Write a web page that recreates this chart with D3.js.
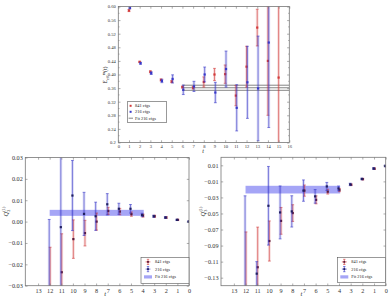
<!DOCTYPE html>
<html>
<head>
<meta charset="utf-8">
<script src="https://cdn.jsdelivr.net/npm/d3@7"></script>
<style>
  body { margin: 0; background: #fff; }
  svg text { font-family: "Liberation Serif", "DejaVu Serif", serif; fill: #222; }
</style>
</head>
<body>
<div id="chart"></div>
<script>
// top panel: effective energy
const topT = d3.range(1, 16);
const topRed = [0.588, 0.437, 0.408, 0.384, 0.379, 0.363, 0.361, 0.378, 0.400, 0.401, 0.338, 0.423, 0.538, 0.440, 0.391];
const topRedErr = [0.003, 0.002, 0.003, 0.003, 0.003, 0.003, 0.004, 0.015, 0.018, 0.027, 0.030, 0.060, 0.054, 0.160, 0.300];
const topBlueT = d3.range(1, 15);
const topBlue = [0.596, 0.433, 0.404, 0.381, 0.387, 0.355, 0.365, 0.400, 0.347, 0.416, 0.302, 0.377, 0.359, 0.494];
const topBlueErr = [0.003, 0.003, 0.004, 0.005, 0.012, 0.014, 0.015, 0.022, 0.030, 0.053, 0.068, 0.106, 0.154, 0.250];
const topFit = { from: 6, to: 16, value: 0.361, err: 0.0075 };
const topYTicks = d3.range(0.2, 0.601, 0.04);

// bottom panels: t = 12 .. 0
const botT = d3.range(12, -1, -1);
const leftRed = [-0.045, -0.0237, -0.0082, -0.0054, 0.0000, 0.0050, 0.0047, 0.0035, 0.0028, 0.0025, 0.0019, 0.0008, 0.0000];
const leftRedErr = [0.033, 0.018, 0.009, 0.006, 0.004, 0.0017, 0.0015, 0.001, 0.0007, 0.0005, 0.0004, 0.0003, 0.0002];
const leftBlue = [-0.040, -0.0026, 0.0122, 0.0036, 0.0025, 0.0081, 0.0060, 0.0060, 0.0031, 0.0025, 0.0019, 0.0008, 0.0000];
const leftBlueErr = [0.041, 0.045, 0.0164, 0.0101, 0.0066, 0.005, 0.0026, 0.002, 0.0008, 0.0005, 0.0004, 0.0003, 0.0002];
const leftFit = { from: 12, to: 3.9, value: 0.0041, err: 0.0014 };
const leftYTicks = d3.range(-0.03, 0.0301, 0.01);

const rightRed = [-0.165, -0.117, -0.0843, -0.0592, -0.0495, -0.0215, -0.033, -0.0228, -0.0208, -0.0142, -0.0072, 0.0058, 0.0090];
const rightRedErr = [0.092, 0.050, 0.025, 0.0167, 0.0104, 0.007, 0.005, 0.003, 0.002, 0.001, 0.001, 0.001, 0.001];
const rightBlue = [-0.160, -0.125, -0.0404, -0.0487, -0.0474, -0.0215, -0.0287, -0.0163, -0.0188, -0.0138, -0.0070, 0.0060, 0.0092];
const rightBlueErr = [0.132, 0.015, 0.049, 0.033, 0.0195, 0.0133, 0.0085, 0.005, 0.003, 0.0015, 0.001, 0.001, 0.001];
const rightFit = { from: 12, to: 3.9, value: -0.0203, err: 0.0048 };
const rightYTicks = d3.range(0.01, -0.1401, -0.02);

const botXTicks = d3.range(0, 14);
const legendNames = ["841 cfgs", "216 cfgs", "Fit 216 cfgs"];

const RED = "#d23a3a", BLUE = "#3838c8";

const svg = d3.select("#chart").append("svg")
  .attr("width", 391).attr("height", 298);

let clipId = 0;

function drawSeries(g, x, y, ts, vals, errs, off, color, dot) {
  const s = g.append("g");
  ts.forEach((t, i) => {
    const px = x(t + off);
    const y1 = y(vals[i] + errs[i]), y2 = y(vals[i] - errs[i]);
    s.append("rect")
      .attr("x", px - 1.4).attr("y", y1)
      .attr("width", 2.8).attr("height", Math.max(0, y2 - y1))
      .attr("fill", color).attr("opacity", 0.17);
    s.append("line")
      .attr("x1", px).attr("x2", px).attr("y1", y1).attr("y2", y2)
      .attr("stroke", color).attr("stroke-width", 0.6);
    [y1, y2].forEach(yy => s.append("line")
      .attr("x1", px - 1.4).attr("x2", px + 1.4).attr("y1", yy).attr("y2", yy)
      .attr("stroke", color).attr("stroke-width", 0.6));
    s.append("rect")
      .attr("x", px - 1.1).attr("y", y(vals[i]) - 1.1)
      .attr("width", 2.2).attr("height", 2.2)
      .attr("fill", dot);
  });
}

function frameAndAxes(g, x, y, box, xTicks, yTicks, yFmt, fs) {
  g.append("rect")
    .attr("x", box.left).attr("y", box.top)
    .attr("width", box.right - box.left).attr("height", box.bottom - box.top)
    .attr("fill", "none").attr("stroke", "#777").attr("stroke-width", 0.8);

  const ax = (gen, tr) => {
    const a = g.append("g").attr("transform", tr).call(gen);
    a.select(".domain").remove();
    a.selectAll("line").attr("stroke", "#777").attr("stroke-width", 0.6);
    a.selectAll("text").style("font-size", fs + "px").style("fill", "#333");
    return a;
  };
  ax(d3.axisBottom(x).tickValues(xTicks).tickSize(-2.2).tickPadding(2.5).tickFormat(d3.format("d")),
    `translate(0,${box.bottom})`);
  ax(d3.axisTop(x).tickValues(xTicks).tickSize(-2.2).tickFormat(""),
    `translate(0,${box.top})`);
  ax(d3.axisLeft(y).tickValues(yTicks).tickSize(-2.2).tickPadding(2.5).tickFormat(yFmt),
    `translate(${box.left},0)`);
  ax(d3.axisRight(y).tickValues(yTicks).tickSize(-2.2).tickFormat(""),
    `translate(${box.right},0)`);
}

function clipGroup(box) {
  const id = "clip" + (clipId++);
  svg.append("clipPath").attr("id", id).append("rect")
    .attr("x", box.left).attr("y", box.top)
    .attr("width", box.right - box.left).attr("height", box.bottom - box.top);
  return svg.append("g").attr("clip-path", `url(#${id})`);
}

// ---------- top panel ----------
(function () {
  const box = { left: 118.3, right: 289.3, top: 6.5, bottom: 142.5 };
  const x = d3.scaleLinear().domain([0, 16]).range([box.left, box.right]);
  const y = d3.scaleLinear().domain([0.2, 0.6]).range([box.bottom, box.top]);
  const g = clipGroup(box);

  [topFit.value + topFit.err, topFit.value, topFit.value - topFit.err].forEach(v => {
    g.append("line")
      .attr("x1", x(topFit.from)).attr("x2", x(topFit.to))
      .attr("y1", y(v)).attr("y2", y(v))
      .attr("stroke", "#333").attr("stroke-width", 0.6);
  });
  drawSeries(g, x, y, topT, topRed, topRedErr, 0, RED, RED);
  drawSeries(g, x, y, topBlueT, topBlue, topBlueErr, 0.08, BLUE, BLUE);

  const fmt = d => Math.abs(d - 0.2) < 1e-9 ? "0.2" : d3.format(".2f")(d);
  frameAndAxes(svg, x, y, box, d3.range(0, 17), topYTicks, fmt, 4.6);
  // minor y ticks
  d3.range(0.22, 0.6, 0.04).forEach(v => {
    svg.append("line").attr("x1", box.left).attr("x2", box.left + 1.3)
      .attr("y1", y(v)).attr("y2", y(v)).attr("stroke", "#777").attr("stroke-width", 0.5);
    svg.append("line").attr("x1", box.right).attr("x2", box.right - 1.3)
      .attr("y1", y(v)).attr("y2", y(v)).attr("stroke", "#777").attr("stroke-width", 0.5);
  });

  svg.append("text").attr("x", 203).attr("y", 153)
    .attr("text-anchor", "middle").style("font-size", "6px").style("font-style", "italic").text("t");

  const lab = svg.append("text")
    .attr("transform", `translate(107,75) rotate(-90)`)
    .attr("text-anchor", "middle").style("font-size", "6px");
  lab.append("tspan").text("E");
  lab.append("tspan").attr("dy", 1.5).style("font-size", "4.2px").text("eff");
  lab.append("tspan").attr("dy", -4).style("font-size", "4.2px").text("m");
  lab.append("tspan").attr("dy", 2.5).text("(t)");

  // legend
  const L = svg.append("g");
  L.append("rect").attr("x", 127.3).attr("y", 101.7).attr("width", 39.4).attr("height", 20.6)
    .attr("fill", "#fff").attr("stroke", "#555").attr("stroke-width", 0.6);
  const ly = [105.8, 111.8, 118.2];
  L.append("rect").attr("x", 129.6).attr("y", ly[0] - 1).attr("width", 2).attr("height", 2).attr("fill", RED);
  L.append("rect").attr("x", 129.6).attr("y", ly[1] - 1).attr("width", 2).attr("height", 2).attr("fill", BLUE);
  L.append("line").attr("x1", 128.6).attr("x2", 133).attr("y1", ly[2]).attr("y2", ly[2])
    .attr("stroke", "#333").attr("stroke-width", 0.6);
  legendNames.forEach((n, i) => L.append("text")
    .attr("x", 135).attr("y", ly[i] + 1.5).style("font-size", "4.4px").text(n));
})();

// ---------- bottom panels ----------
function bottomPanel(box, yDomain, yTicks, red, redErr, blue, blueErr, fit, labelX, sub, legBox) {
  const x = d3.scaleLinear().domain([14.1, 0]).range([box.left, box.right]);
  const y = d3.scaleLinear().domain(yDomain).range([box.bottom, box.top]);
  const g = clipGroup(box);

  g.append("rect")
    .attr("x", x(fit.from)).attr("width", x(fit.to) - x(fit.from))
    .attr("y", y(fit.value + fit.err)).attr("height", y(fit.value - fit.err) - y(fit.value + fit.err))
    .attr("fill", "#7f7ff2").attr("opacity", 0.7);

  drawSeries(g, x, y, botT, red, redErr, -0.04, RED, "#5a1a3a");
  drawSeries(g, x, y, botT, blue, blueErr, 0.04, BLUE, "#202060");

  frameAndAxes(svg, x, y, box, botXTicks, yTicks, d3.format(".2f"), 6.2);

  svg.append("text").attr("x", (box.left + box.right) / 2 - 2).attr("y", 296)
    .attr("text-anchor", "middle").style("font-size", "6.5px").style("font-style", "italic").text("t");

  const lab = svg.append("text")
    .attr("transform", `translate(${labelX},${(box.top + box.bottom) / 2 - 10}) rotate(-90)`)
    .attr("text-anchor", "middle").style("font-size", "6.5px");
  lab.append("tspan").style("font-style", "italic").text("Q");
  lab.append("tspan").attr("dy", 1.6).style("font-size", "4.3px").text(sub);
  lab.append("tspan").attr("dy", -4.4).attr("dx", -2).style("font-size", "4.3px").text("(1)");

  // legend
  const L = svg.append("g");
  L.append("rect").attr("x", legBox.x).attr("y", legBox.y).attr("width", legBox.w).attr("height", legBox.h)
    .attr("fill", "#fff").attr("stroke", "#555").attr("stroke-width", 0.6);
  const mx = legBox.x + 7, tx = legBox.x + 14;
  const ly = [legBox.y + 4.6, legBox.y + 11.8, legBox.y + 19.6];
  [[RED, "#5a1a3a"], [BLUE, "#202060"]].forEach(([c, d], i) => {
    L.append("line").attr("x1", mx).attr("x2", mx).attr("y1", ly[i] - 2.6).attr("y2", ly[i] + 2.6)
      .attr("stroke", c).attr("stroke-width", 0.7);
    L.append("line").attr("x1", mx - 2.4).attr("x2", mx + 2.4).attr("y1", ly[i]).attr("y2", ly[i])
      .attr("stroke", c).attr("stroke-width", 0.7);
    [-2.6, 2.6].forEach(o => L.append("line").attr("x1", mx - 1.2).attr("x2", mx + 1.2)
      .attr("y1", ly[i] + o).attr("y2", ly[i] + o).attr("stroke", c).attr("stroke-width", 0.6));
    L.append("rect").attr("x", mx - 0.9).attr("y", ly[i] - 0.9).attr("width", 1.8).attr("height", 1.8).attr("fill", d);
  });
  L.append("rect").attr("x", mx - 4).attr("y", ly[2] - 1.6).attr("width", 8).attr("height", 3.2)
    .attr("fill", "#7f7ff2").attr("opacity", 0.7);
  legendNames.forEach((n, i) => L.append("text")
    .attr("x", tx).attr("y", ly[i] + 1.5).style("font-size", "4.4px").text(n));
}

bottomPanel({ left: 25.3, right: 189, top: 157.5, bottom: 285.7 }, [-0.03, 0.03], leftYTicks,
  leftRed, leftRedErr, leftBlue, leftBlueErr, leftFit, 8, "2",
  { x: 141, y: 257.3, w: 48, h: 26 });

bottomPanel({ left: 221, right: 385.7, top: 157.3, bottom: 285.7 }, [-0.14, 0.02], rightYTicks,
  rightRed, rightRedErr, rightBlue, rightBlueErr, rightFit, 205, "3",
  { x: 337.3, y: 257.3, w: 48.4, h: 25 });
</script>
</body>
</html>
